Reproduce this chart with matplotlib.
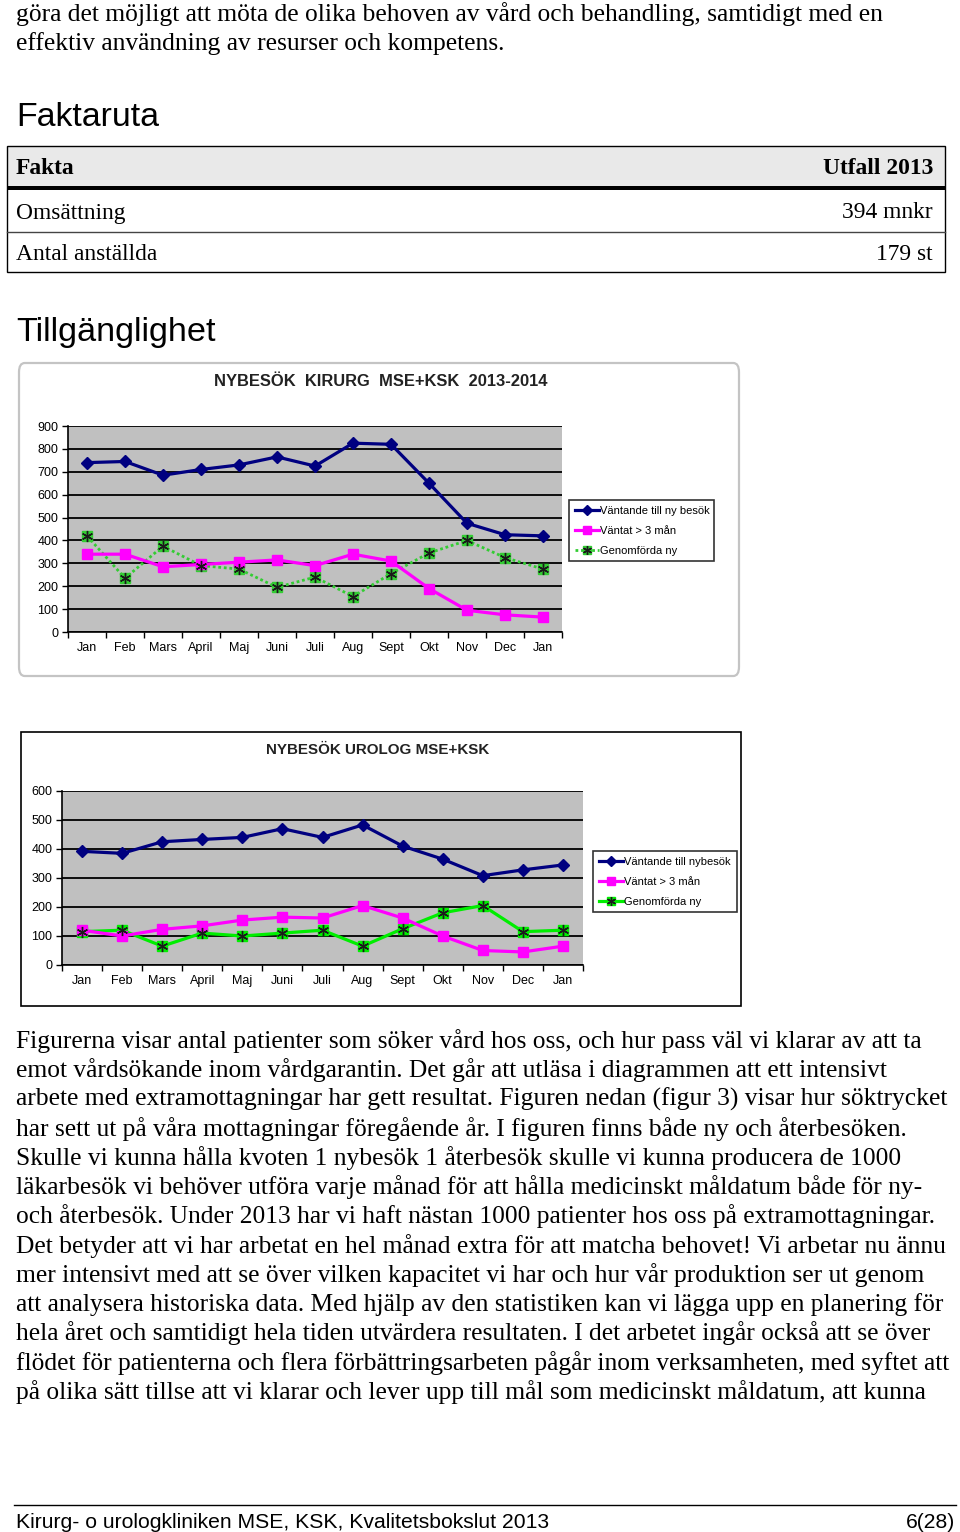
import matplotlib
matplotlib.use("Agg")
import matplotlib.pyplot as plt
from matplotlib.patches import Rectangle, FancyBboxPatch
from matplotlib.lines import Line2D
from matplotlib.legend_handler import HandlerTuple

W, H = 960, 1532

# ---------------- data ----------------
months = ["Jan", "Feb", "Mars", "April", "Maj", "Juni", "Juli", "Aug", "Sept", "Okt", "Nov", "Dec", "Jan"]
series_names_1 = ["Väntande till ny besök", "Väntat > 3 mån", "Genomförda ny"]
series_names_2 = ["Väntande till nybesök", "Väntat > 3 mån", "Genomförda ny"]

kir_vantande = [740, 745, 685, 710, 730, 765, 725, 825, 820, 650, 475, 425, 420]
kir_vantat3 = [340, 340, 285, 295, 305, 315, 290, 340, 310, 190, 95, 75, 65]
kir_genomf = [420, 235, 375, 290, 275, 195, 240, 155, 255, 345, 400, 325, 275]

uro_vantande = [392, 385, 425, 433, 440, 470, 440, 483, 410, 365, 308, 328, 345]
uro_vantat3 = [120, 100, 123, 135, 155, 165, 162, 205, 162, 100, 50, 45, 65]
uro_genomf = [115, 120, 65, 110, 100, 110, 120, 65, 125, 180, 205, 115, 120]

kir_yticks = list(range(0, 1000, 100))
uro_yticks = list(range(0, 700, 100))

title_1 = "NYBESÖK  KIRURG  MSE+KSK  2013-2014"
title_2 = "NYBESÖK UROLOG MSE+KSK"

top_lines = [
    "göra det möjligt att möta de olika behoven av vård och behandling, samtidigt med en",
    "effektiv användning av resurser och kompetens.",
]
body_lines = [
    "Figurerna visar antal patienter som söker vård hos oss, och hur pass väl vi klarar av att ta",
    "emot vårdsökande inom vårdgarantin. Det går att utläsa i diagrammen att ett intensivt",
    "arbete med extramottagningar har gett resultat. Figuren nedan (figur 3) visar hur söktrycket",
    "har sett ut på våra mottagningar föregående år. I figuren finns både ny och återbesöken.",
    "Skulle vi kunna hålla kvoten 1 nybesök 1 återbesök skulle vi kunna producera de 1000",
    "läkarbesök vi behöver utföra varje månad för att hålla medicinskt måldatum både för ny-",
    "och återbesök. Under 2013 har vi haft nästan 1000 patienter hos oss på extramottagningar.",
    "Det betyder att vi har arbetat en hel månad extra för att matcha behovet! Vi arbetar nu ännu",
    "mer intensivt med att se över vilken kapacitet vi har och hur vår produktion ser ut genom",
    "att analysera historiska data. Med hjälp av den statistiken kan vi lägga upp en planering för",
    "hela året och samtidigt hela tiden utvärdera resultaten. I det arbetet ingår också att se över",
    "flödet för patienterna och flera förbättringsarbeten pågår inom verksamheten, med syftet att",
    "på olika sätt tillse att vi klarar och lever upp till mål som medicinskt måldatum, att kunna",
]
table_header = ["Fakta", "Utfall 2013"]
table_rows = [["Omsättning", "394 mnkr"], ["Antal anställda", "179 st"]]
footer_left = "Kirurg- o urologkliniken MSE, KSK, Kvalitetsbokslut 2013"
footer_right = "6(28)"

SERIF = "Liberation Serif"
SANS = "Liberation Sans"

fig = plt.figure(figsize=(W / 100, H / 100), dpi=100)
fig.patch.set_facecolor("white")


def fx(x):
    return x / W


def fy(y):
    return 1 - y / H


def ftext(x, y, s, **kw):
    fig.text(fx(x), fy(y), s, va="center", **kw)


def frect(x0, y0, x1, y1, zorder=-5, **kw):
    r = Rectangle((fx(x0), fy(y1)), fx(x1) - fx(x0), (y1 - y0) / H,
                  transform=fig.transFigure, zorder=zorder, **kw)
    fig.add_artist(r)


def fline(x0, y0, x1, y1, **kw):
    fig.add_artist(Line2D([fx(x0), fx(x1)], [fy(y0), fy(y1)], transform=fig.transFigure, **kw))


BODY_FS = 18.4

# ---------------- top text ----------------
for i, s in enumerate(top_lines):
    ftext(16, 14 + i * 29.3, s, family=SERIF, fontsize=BODY_FS)

ftext(16, 117, "Faktaruta", family=SANS, fontsize=24.4)

# ---------------- table ----------------
TAB_FS = 16.9
frect(7, 146, 945, 187, facecolor="#e9e9e9", edgecolor="none")
frect(7, 146, 945, 272, facecolor="none", edgecolor="black", lw=1, zorder=2)
frect(7, 186, 945, 190, facecolor="black", edgecolor="none", zorder=2)
fline(7, 231.5, 945, 231.5, color="#444444", lw=1)
ftext(16, 169, table_header[0], family=SERIF, fontsize=TAB_FS, weight="bold")
ftext(933, 169, table_header[1], family=SERIF, fontsize=TAB_FS, weight="bold", ha="right")
for i, (a, b) in enumerate(table_rows):
    yy = 213 + i * 41
    ftext(16, yy, a, family=SERIF, fontsize=TAB_FS)
    ftext(933, yy, b, family=SERIF, fontsize=TAB_FS, ha="right")

ftext(16, 333, "Tillgänglighet", family=SANS, fontsize=24.7)

# ---------------- chart frames ----------------
fb = FancyBboxPatch((fx(19), fy(676)), fx(739) - fx(19), (676 - 363) / H,
                    boxstyle="round,pad=0,rounding_size=0.006", transform=fig.transFigure,
                    facecolor="white", edgecolor="#c4c4c4", lw=1.6, zorder=-5)
fig.add_artist(fb)
frect(21, 732, 741, 1006, facecolor="white", edgecolor="black", lw=1.2)

NAVY = "#000080"
MAG = "#ff00ff"


def make_chart(box, ylim, yticks, vals, names, green_col, green_ls, title, tpos, title_fs,
               legbox, ylabel_fs=9):
    x0, y0, x1, y1 = box
    ax = fig.add_axes([fx(x0), fy(y1), fx(x1) - fx(x0), (y1 - y0) / H])
    ax.set_zorder(3)
    ax.set_facecolor("#c0c0c0")
    xs = list(range(len(months)))
    v1, v2, v3 = vals
    lb, = ax.plot(xs, v1, color=NAVY, lw=2.3, marker="D", ms=6, mfc=NAVY, mec=NAVY, zorder=5)
    lp, = ax.plot(xs, v2, color=MAG, lw=2.3, marker="s", ms=7.5, mfc=MAG, mec=MAG, zorder=4)
    lg, = ax.plot(xs, v3, color=green_col, lw=2.0 if green_ls != "-" else 2.3, ls=green_ls,
                  marker="s", ms=7, mfc=green_col, mec=green_col, zorder=3)
    la, = ax.plot(xs, v3, ls="none", marker=(6, 2, 0), ms=8, mec="#1a1a1a", mew=1.0, zorder=6)
    ax.set_xlim(-0.5, len(months) - 0.5)
    ax.set_ylim(*ylim)
    ax.set_yticks(yticks)
    ax.set_yticklabels([str(t) for t in yticks], fontsize=ylabel_fs, family=SANS)
    ax.set_xticks([i - 0.5 for i in range(len(months) + 1)])
    ax.set_xticklabels([])
    ax.set_xticks(xs, minor=True)
    ax.set_xticklabels(months, minor=True, fontsize=ylabel_fs, family=SANS)
    ax.tick_params(axis="x", which="major", direction="out", length=4, width=1, color="black")
    ax.tick_params(axis="x", which="minor", length=0, pad=7)
    ax.tick_params(axis="y", direction="out", length=4, width=1, color="black", pad=3)
    ax.grid(axis="y", color="black", lw=1.3, zorder=1)
    ax.set_axisbelow(True)
    for s in ["top", "right"]:
        ax.spines[s].set_visible(False)
    for s in ["left", "bottom"]:
        ax.spines[s].set_color("black")
        ax.spines[s].set_linewidth(1.2)
    ftext(tpos[0], tpos[1], title, family=SANS, fontsize=title_fs, weight="bold", ha="center",
          color="#222222")
    lx0, ly0, lx1, ly1 = legbox
    leg = ax.legend([lb, lp, (lg, la)], names, loc="upper left",
                    bbox_to_anchor=(fx(lx0), fy(ly1), fx(lx1) - fx(lx0), (ly1 - ly0) / H),
                    bbox_transform=fig.transFigure, mode="expand",
                    handler_map={tuple: HandlerTuple(ndivide=1, pad=0)},
                    prop={"family": SANS, "size": 8}, frameon=True, fancybox=False,
                    edgecolor="black", borderpad=0.5, labelspacing=0.9, handlelength=2.2,
                    handletextpad=0.1, borderaxespad=0, markerscale=0.8)
    leg.get_frame().set_linewidth(1.2)
    return ax


make_chart((68, 426, 562, 632), (0, 900), kir_yticks,
           (kir_vantande, kir_vantat3, kir_genomf), series_names_1,
           "#33cc33", (0, (1, 1)), title_1, (381, 382), 11.9, (569, 500, 714, 561))
make_chart((62, 791, 583, 965), (0, 600), uro_yticks,
           (uro_vantande, uro_vantat3, uro_genomf), series_names_2,
           "#00ee00", "-", title_2, (378, 750), 10.9, (593, 851, 737, 910))

# ---------------- body text ----------------
for i, s in enumerate(body_lines):
    ftext(16, 1041 + i * 29.25, s, family=SERIF, fontsize=BODY_FS)

# ---------------- footer ----------------
fline(14, 1505, 956, 1505, color="black", lw=1)
ftext(16, 1522, footer_left, family=SANS, fontsize=15.2)
ftext(955, 1522, footer_right, family=SANS, fontsize=15.2, ha="right")

fig.savefig("out.png", dpi=100, facecolor="white")
